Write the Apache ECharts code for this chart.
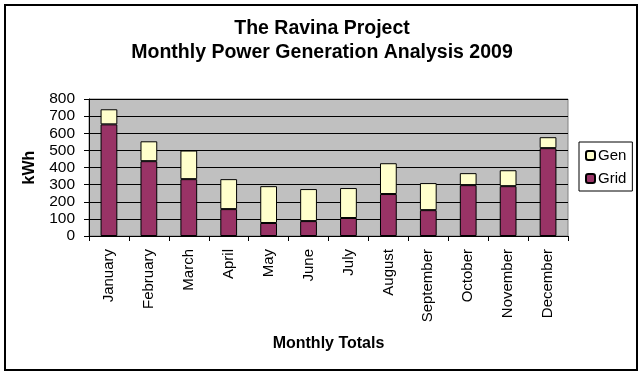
<!DOCTYPE html>
<html>
<head>
<meta charset="utf-8">
<script src="https://cdn.jsdelivr.net/npm/echarts@6/dist/echarts.min.js"></script>
<style>
body{margin:0;background:#fff;}
#chart{width:644px;height:375px;}
</style>
</head>
<body>
<div id="chart"></div>
<script>
var months=['January','February','March','April','May','June','July','August','September','October','November','December'];
var grid_kwh=[652,437,332,157,76,87,105,245,151,297,291,513];//Grid
var gen_kwh=[88,116,167,175,215,187,175,180,158,70,93,64];//Gen
var yTicks=[0,800,100];//min,max,interval

var font='"Liberation Sans", Arial, sans-serif';
var myChart=echarts.init(document.getElementById('chart'));
var option={
	animation:false,
	backgroundColor:'#fff',
	title:{
		text:'The Ravina Project\nMonthly Power Generation Analysis 2009',
		left:'center',
		top:12,
		textStyle:{fontFamily:font,fontWeight:'bold',fontSize:19.5,lineHeight:24,color:'#000'}
	},
	graphic:[{
		type:'rect',
		shape:{x:5,y:5,width:632,height:365},
		style:{fill:'none',stroke:'#000',lineWidth:2},
		silent:true
	}],
	legend:{
		orient:'vertical',
		left:579,
		top:142,
		padding:[6,6,5,6],
		itemGap:8,
		itemWidth:9,
		itemHeight:9,
		borderColor:'#000',
		borderWidth:1,
		backgroundColor:'#fff',
		textStyle:{fontFamily:font,fontSize:15,color:'#000',padding:[0,0,0,-2]},
		data:['Gen','Grid']
	},
	grid:{
		left:89,
		right:76,
		top:99,
		bottom:139,
		show:true,
		backgroundColor:'#C0C0C0',
		borderColor:'#808080',
		borderWidth:1
	},
	xAxis:{
		type:'category',
		data:months,
		name:'Monthly Totals',
		nameLocation:'middle',
		nameGap:100,
		nameTextStyle:{fontFamily:font,fontWeight:'bold',fontSize:16,color:'#000'},
		axisLine:{lineStyle:{color:'#000',width:1}},
		axisTick:{show:true,length:5,lineStyle:{color:'#000'}},
		axisLabel:{interval:0,rotate:90,margin:13,fontFamily:font,fontSize:15,color:'#000'}
	},
	yAxis:{
		type:'value',
		min:yTicks[0],
		max:yTicks[1],
		interval:yTicks[2],
		name:'kWh',
		nameLocation:'middle',
		nameRotate:90,
		nameGap:51,
		nameTextStyle:{fontFamily:font,fontWeight:'bold',fontSize:16,color:'#000'},
		axisLine:{show:true,lineStyle:{color:'#000',width:1}},
		axisTick:{show:true,length:5,lineStyle:{color:'#000'}},
		axisLabel:{margin:14,fontFamily:font,fontSize:15.5,color:'#000'},
		splitLine:{lineStyle:{color:'#000',width:1}}
	},
	series:[
		{
			name:'Grid',
			type:'bar',
			stack:'total',
			barWidth:'42%',
			itemStyle:{color:'#993366',borderColor:'#000',borderWidth:1},
			data:grid_kwh
		},
		{
			name:'Gen',
			type:'bar',
			stack:'total',
			barWidth:'42%',
			itemStyle:{color:'#FFFFCC',borderColor:'#000',borderWidth:1},
			data:gen_kwh
		}
	]
};
myChart.setOption(option);
</script>
</body>
</html>
